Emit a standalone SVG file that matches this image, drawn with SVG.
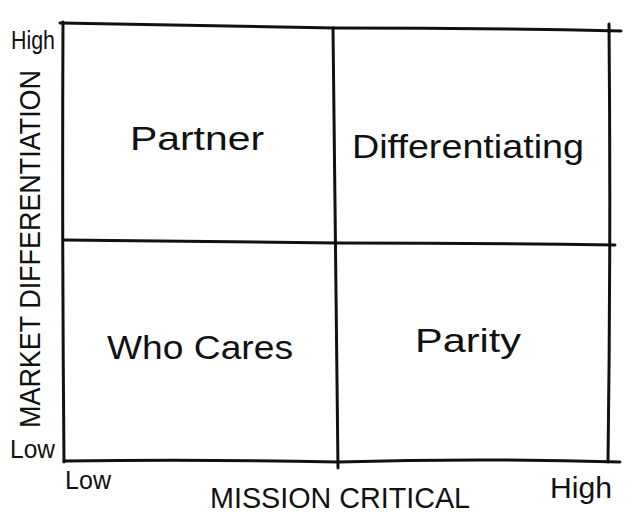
<svg xmlns="http://www.w3.org/2000/svg" width="640" height="516" viewBox="0 0 640 516">
<style>
.ln{fill:none;stroke:#111;stroke-width:3;stroke-linecap:round;stroke-linejoin:round}
.q{font-family:"Liberation Sans","DejaVu Sans",sans-serif;font-size:34px;fill:#111;text-anchor:middle}
.ax{font-family:"Liberation Sans Narrow","Liberation Sans",sans-serif;font-size:26px;fill:#111}
.axl{font-family:"Liberation Sans Narrow","Liberation Sans",sans-serif;font-size:30px;fill:#111;text-anchor:middle}
</style>
<rect width="640" height="516" fill="#fff"/>
<g id="connectors">
<path class="ln" d="M60 23 Q200 25 335 28 Q480 28 621 31"/>
<path class="ln" d="M63 22 Q62 240 64 462"/>
<path class="ln" d="M64 461 Q200 459 338 462 Q480 458 620 462"/>
<path class="ln" d="M609 24 Q611 240 608 462"/>
<path class="ln" d="M333 28 Q336 240 338 468"/>
<path class="ln" d="M63 240 Q200 241 337 243 Q480 243 615 245"/>
</g>
<g id="partner"><text class="q" x="197" y="150" textLength="134" lengthAdjust="spacingAndGlyphs">Partner</text></g>
<g id="differentiating"><text class="q" x="468" y="158" textLength="232" lengthAdjust="spacingAndGlyphs">Differentiating</text></g>
<g id="who-cares"><text class="q" x="200" y="359" textLength="186" lengthAdjust="spacingAndGlyphs">Who Cares</text></g>
<g id="parity"><text class="q" x="468" y="352" textLength="106" lengthAdjust="spacingAndGlyphs">Parity</text></g>
<g id="y-axis">
<text class="ax" x="11" y="49" textLength="44" lengthAdjust="spacingAndGlyphs">High</text>
<text class="ax" x="10" y="458" textLength="45" lengthAdjust="spacingAndGlyphs">Low</text>
<text class="axl" transform="translate(40 249) rotate(-90)" textLength="358" lengthAdjust="spacingAndGlyphs">MARKET DIFFERENTIATION</text>
</g>
<g id="x-axis">
<text class="ax" x="65" y="489" textLength="46" lengthAdjust="spacingAndGlyphs">Low</text>
<text class="ax" x="550" y="498" textLength="62" lengthAdjust="spacingAndGlyphs" style="font-size:29px">High</text>
<text class="axl" x="340" y="508" textLength="260" lengthAdjust="spacingAndGlyphs">MISSION CRITICAL</text>
</g>
</svg>
